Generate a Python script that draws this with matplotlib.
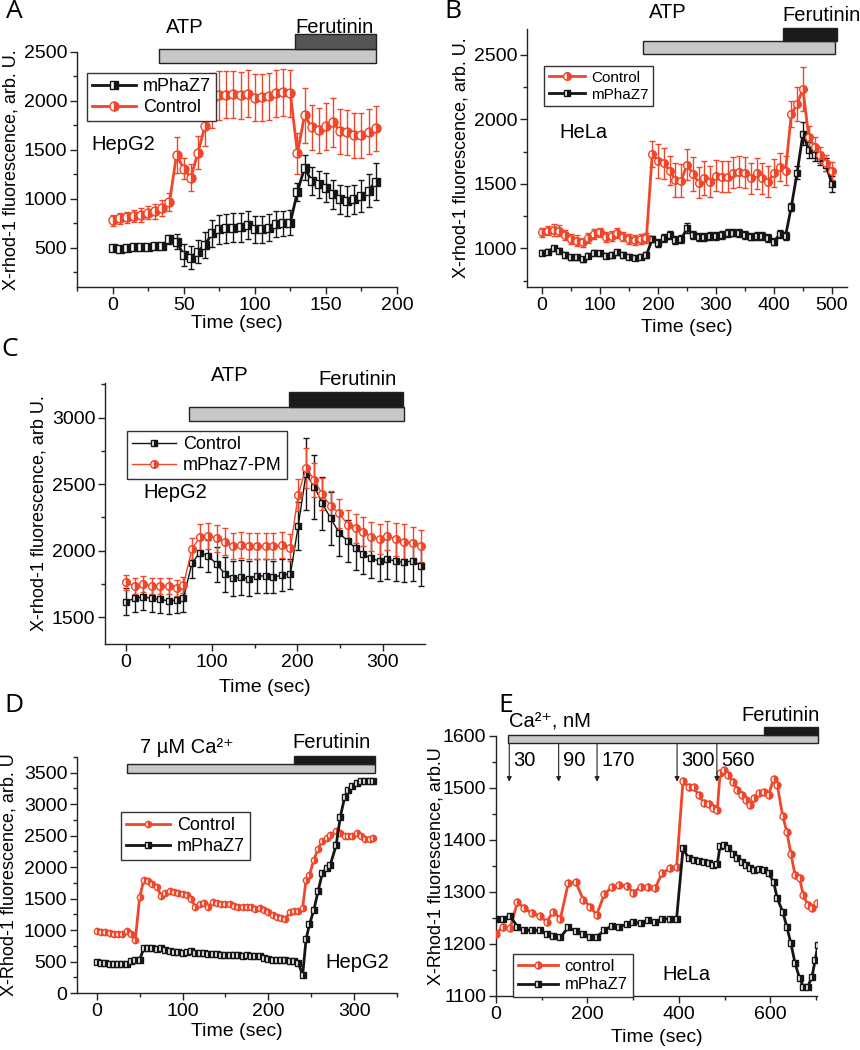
"""Five-panel X-rhod-1 fluorescence figure (panels A-E)."""

import matplotlib.pyplot as plt
from matplotlib.ticker import MultipleLocator

plt.rcParams["font.family"] = ["Liberation Sans", "DejaVu Sans"]

RED = "#F0462A"
BLACK = "#151515"

# ---------------- Panel A (HepG2, ATP then ferutinin) ----------------
t_a = [0, 5, 10, 15, 20, 25, 30, 35, 40, 45, 50, 55, 60, 65, 70, 75, 80, 85, 90,
       95, 100, 105, 110, 115, 120, 125, 130, 135, 140, 145, 150, 155, 160, 165,
       170, 175, 180, 185]
a_ctrl = [780, 800, 810, 825, 835, 860, 873, 905, 965, 1447, 1310, 1216, 1470,
          1742, 2007, 2058, 2065, 2070, 2058, 2075, 2035, 2040, 2050, 2080, 2090,
          2080, 1464, 1855, 1730, 1700, 1742, 1780, 1690, 1680, 1650, 1650, 1685,
          1720]
a_ctrl_err = [60, 60, 60, 65, 70, 70, 75, 80, 90, 180, 110, 140, 170, 200, 280,
              250, 240, 240, 240, 240, 240, 240, 240, 240, 240, 240, 210, 280,
              230, 230, 240, 250, 230, 230, 230, 230, 230, 230]
a_mut = [500, 486, 496, 506, 506, 513, 523, 523, 587, 564, 428, 400, 462, 530,
         649, 690, 700, 706, 710, 734, 690, 690, 706, 744, 750, 757, 1073, 1318,
         1182, 1148, 1114, 1046, 995, 978, 995, 1029, 1083, 1175]
a_mut_err = [25, 25, 25, 25, 25, 25, 25, 30, 45, 80, 110, 120, 120, 130, 140,
             150, 150, 150, 150, 140, 140, 140, 140, 130, 130, 130, 90, 130,
             140, 140, 150, 150, 150, 150, 150, 160, 170, 190]

# ---------------- Panel B (HeLa) ----------------
t_b = [0, 10, 20, 30, 40, 50, 60, 70, 80, 90, 100, 110, 120, 130, 140, 150, 160,
       170, 180, 190, 200, 210, 220, 230, 240, 250, 260, 270, 280, 290, 300, 310,
       320, 330, 340, 350, 360, 370, 380, 390, 400, 410, 420, 430, 440, 450, 460,
       470, 480, 490, 500]
b_ctrl = [1124, 1135, 1142, 1137, 1103, 1070, 1060, 1047, 1078, 1109, 1124,
          1085, 1096, 1116, 1091, 1072, 1065, 1070, 1080, 1729, 1678, 1660, 1603,
          1530, 1525, 1647, 1577, 1510, 1543, 1517, 1564, 1556, 1556, 1587, 1595,
          1587, 1543, 1582, 1543, 1517, 1582, 1628, 1603, 2040, 2120, 2234, 1866,
          1789, 1724, 1660, 1600]
b_ctrl_err = [35, 35, 50, 40, 35, 40, 40, 35, 40, 40, 35, 40, 40, 40, 35, 40, 40,
              40, 40, 100, 130, 120, 110, 130, 130, 120, 130, 120, 130, 120, 120,
              120, 120, 120, 120, 120, 120, 120, 120, 120, 110, 110, 110, 100,
              130, 170, 80, 70, 60, 60, 70]
b_mut = [967, 974, 1000, 982, 948, 930, 930, 915, 941, 967, 962, 943, 948, 969,
         948, 935, 928, 935, 948, 1070, 1039, 1078, 1103, 1065, 1070, 1155, 1103,
         1085, 1085, 1096, 1098, 1103, 1116, 1122, 1116, 1103, 1091, 1096, 1096,
         1078, 1052, 1109, 1096, 1323, 1587, 1887, 1763, 1724, 1698, 1647, 1497]
b_mut_err = [20, 20, 20, 20, 20, 20, 20, 20, 20, 20, 20, 20, 20, 20, 20, 20, 20,
             20, 20, 25, 30, 30, 30, 30, 30, 40, 30, 30, 30, 30, 30, 30, 30, 30,
             30, 30, 30, 30, 30, 30, 30, 30, 30, 30, 50, 90, 60, 50, 50, 50, 60]

# ---------------- Panel C (HepG2, PM-targeted) ----------------
t_c = [0, 10, 20, 30, 40, 50, 60, 67, 77, 86, 96, 106, 116, 125, 134, 143, 153,
       163, 172, 182, 192, 201, 210, 220, 229, 239, 249, 259, 268, 277, 286, 296,
       305, 315, 325, 335, 344]
c_ctrl = [1618, 1643, 1655, 1643, 1635, 1623, 1630, 1643, 1906, 1986, 1963,
          1898, 1823, 1793, 1801, 1791, 1811, 1811, 1801, 1818, 1826, 2186, 2574,
          2482, 2356, 2244, 2131, 2073, 2018, 1973, 1943, 1923, 1936, 1923, 1913,
          1926, 1888]
c_ctrl_err = [100, 100, 100, 100, 100, 100, 100, 100, 110, 110, 120, 130, 130,
              130, 130, 130, 130, 130, 120, 120, 110, 180, 270, 240, 200, 200,
              170, 160, 160, 150, 150, 150, 150, 150, 150, 150, 150]
c_mut = [1763, 1735, 1750, 1735, 1735, 1735, 1723, 1743, 2013, 2101, 2111, 2093,
         2068, 2036, 2043, 2036, 2036, 2036, 2036, 2043, 2023, 2419, 2619, 2532,
         2424, 2336, 2281, 2194, 2169, 2144, 2106, 2089, 2114, 2086, 2068, 2061,
         2036]
c_mut_err = [55, 60, 60, 60, 60, 60, 60, 60, 80, 100, 100, 100, 100, 100, 100,
             100, 100, 100, 100, 100, 100, 120, 150, 130, 120, 110, 110, 110, 110,
             110, 110, 110, 110, 125, 130, 120, 120]

# ---------------- Panel D (HepG2, 7 uM Ca2+) ----------------
t_d = [0, 5, 10, 15, 20, 25, 30, 35, 40, 45, 50, 55, 60, 65, 70, 75, 80, 85, 90,
       95, 100, 105, 110, 115, 120, 125, 130, 135, 140, 145, 150, 155, 160, 165,
       170, 175, 180, 185, 190, 195, 200, 205, 210, 215, 220, 225, 230, 235, 240,
       244, 248, 253, 258, 263, 268, 272, 279, 284, 289, 293, 298, 303, 308, 313,
       318, 322]
d_ctrl = [992, 977, 966, 955, 940, 940, 940, 992, 940, 845, 1520, 1800, 1774,
          1731, 1689, 1547, 1584, 1626, 1600, 1584, 1573, 1563, 1494, 1362, 1415,
          1425, 1372, 1441, 1425, 1415, 1415, 1415, 1388, 1372, 1362, 1362, 1362,
          1336, 1351, 1320, 1283, 1240, 1204, 1193, 1177, 1283, 1309, 1309, 1351,
          1800, 1880, 2110, 2290, 2420, 2470, 2510, 2580, 2540, 2500, 2490, 2490,
          2550, 2490, 2440, 2450, 2455]
d_mut = [491, 475, 475, 465, 465, 465, 465, 465, 507, 517, 528, 713, 713, 713,
         702, 713, 676, 665, 649, 649, 639, 649, 660, 639, 633, 633, 623, 612,
         612, 607, 597, 597, 607, 597, 586, 597, 581, 586, 581, 560, 544, 528,
         528, 517, 517, 502, 502, 480, 280, 855, 1093, 1315, 1616, 1906, 1980,
         2027, 2344, 2804, 3110, 3226, 3295, 3331, 3374, 3374, 3374, 3363]

# ---------------- Panel E (HeLa, Ca2+ steps) ----------------
t_e_ctrl = [0, 15, 31, 47, 62, 78, 96, 111, 125, 141, 158, 174, 191, 206, 220,
            237, 253, 269, 286, 300, 317, 333, 348, 363, 381, 395, 409, 421,
            432, 444, 454, 465, 475, 484, 490, 499, 508, 518, 528, 538, 547, 556,
            565, 575, 585, 596, 607, 615, 627, 636, 645, 654, 664, 672, 682, 691,
            702]
e_ctrl = [1220, 1233, 1231, 1281, 1269, 1259, 1254, 1243, 1262, 1249, 1317,
          1320, 1285, 1272, 1256, 1296, 1309, 1313, 1312, 1299, 1310, 1309, 1307,
          1336, 1346, 1349, 1514, 1502, 1501, 1486, 1472, 1469, 1461, 1458, 1528,
          1535, 1525, 1512, 1496, 1487, 1477, 1467, 1480, 1491, 1493, 1487, 1517,
          1506, 1446, 1416, 1373, 1333, 1326, 1294, 1275, 1269, 1279]
t_e_mut = [0, 15, 31, 47, 62, 78, 96, 111, 125, 141, 158, 174, 191, 206, 220,
           237, 253, 269, 286, 300, 317, 333, 348, 363, 381, 395, 409, 421, 432,
           444, 454, 465, 475, 484, 490, 499, 508, 518, 528, 538, 547, 556, 565,
           575, 585, 596, 607, 615, 627, 636, 645, 654, 664, 672, 682, 691, 698,
           704]
e_mut = [1249, 1249, 1254, 1233, 1227, 1226, 1226, 1219, 1216, 1213, 1232, 1225,
         1219, 1213, 1214, 1226, 1235, 1233, 1238, 1242, 1240, 1246, 1243, 1248,
         1249, 1249, 1384, 1365, 1362, 1360, 1357, 1355, 1352, 1354, 1388, 1390,
         1384, 1374, 1365, 1358, 1352, 1346, 1343, 1344, 1343, 1336, 1320, 1288,
         1262, 1233, 1201, 1163, 1134, 1118, 1118, 1137, 1169, 1198]
e_doses = ["30", "90", "170", "300", "560"]
e_dose_times = [29, 137, 221, 396, 483]

W, H = 860, 1050
fig = plt.figure(figsize=(W / 100, H / 100), dpi=100)

TICK_FS = 14
TEXT_FS = 14.5


def px_axes(left, top, right, bottom):
    return fig.add_axes([left / W, 1 - bottom / H, (right - left) / W,
                         (bottom - top) / H])


def style(ax, xmaj, ymaj):
    for s in ("top", "right"):
        ax.spines[s].set_visible(False)
    for s in ("left", "bottom"):
        ax.spines[s].set_linewidth(1.0)
        ax.spines[s].set_color("#222222")
    ax.xaxis.set_major_locator(MultipleLocator(xmaj))
    ax.xaxis.set_minor_locator(MultipleLocator(xmaj / 2))
    ax.yaxis.set_major_locator(MultipleLocator(ymaj))
    ax.yaxis.set_minor_locator(MultipleLocator(ymaj / 2))
    ax.tick_params(which="major", direction="out", length=5, width=1,
                   labelsize=TICK_FS, color="#222222", pad=2)
    ax.tick_params(which="minor", direction="out", length=3, width=1,
                   color="#222222")


def place_labels(ax, ylab, ylab_px, xlab_px):
    ax.set_ylabel(ylab, fontsize=13)
    ax.set_xlabel("Time (sec)", fontsize=14)
    bb = ax.get_position()
    ax.yaxis.set_label_coords(ylab_px / W, (bb.y0 + bb.y1) / 2,
                              transform=fig.transFigure)
    ax.yaxis.label.set_verticalalignment("center")
    ax.xaxis.set_label_coords((bb.x0 + bb.x1) / 2, 1 - xlab_px / H,
                              transform=fig.transFigure)
    ax.xaxis.label.set_verticalalignment("center")


def series(ax, t, y, err, color, marker, ms, lw, label):
    if err is not None:
        ax.errorbar(t, y, yerr=err, fmt="none", ecolor=color, elinewidth=1,
                    capsize=2.5, capthick=1, zorder=2)
    line, = ax.plot(t, y, color=color, lw=lw, marker=marker, ms=ms,
                    fillstyle="right", markerfacecolor=color,
                    markerfacecoloralt="white", markeredgecolor=color,
                    markeredgewidth=1, label=label, zorder=3)
    return line


def bar(ax, span, yspan, color):
    ax.barh((yspan[0] + yspan[1]) / 2, span[1] - span[0], left=span[0],
            height=yspan[1] - yspan[0], color=color, edgecolor="#222222",
            linewidth=1, clip_on=False, zorder=4)


def legend(ax, handles, x, y, fs):
    ax.legend(handles=handles, loc="upper left",
              bbox_to_anchor=(x / W, 1 - y / H), bbox_transform=fig.transFigure,
              borderaxespad=0, fancybox=False, framealpha=1,
              edgecolor="#333333", fontsize=fs, handlelength=2.4,
              handletextpad=0.4, borderpad=0.3, labelspacing=0.2)


def ptext(s, x, y, **kw):
    fig.text(x / W, 1 - y / H, s, ha="center", va="center", **kw)


# Panel A
ax = px_axes(77, 52, 397, 287)
ax.set_xlim(-25, 200)
ax.set_ylim(100, 2500)
style(ax, 50, 500)
h1 = series(ax, t_a, a_mut, a_mut_err, BLACK, "s", 6, 2, "mPhaZ7")
h2 = series(ax, t_a, a_ctrl, a_ctrl_err, RED, "o", 6.5, 2, "Control")
bar(ax, (33, 185), (2388, 2530), "#c8c8c8")
bar(ax, (128, 185), (2530, 2683), "#555555")
ax.text(51, 2755, "ATP", ha="center", va="center", fontsize=TEXT_FS,
        clip_on=False)
ax.text(156, 2755, "Ferutinin", ha="center", va="center", fontsize=TEXT_FS,
        clip_on=False)
legend(ax, [h1, h2], 87, 73, 13)
place_labels(ax, "X-rhod-1 fluorescence, arb. U.", 11, 323)
ptext("HepG2", 123, 145, fontsize=TEXT_FS)

# Panel B
ax = px_axes(527, 29, 847, 287)
ax.set_xlim(-26, 526)
ax.set_ylim(700, 2700)
style(ax, 100, 500)
h2 = series(ax, t_b, b_mut, b_mut_err, BLACK, "s", 5, 2, "mPhaZ7")
h1 = series(ax, t_b, b_ctrl, b_ctrl_err, RED, "o", 5.5, 2, "Control")
bar(ax, (174, 506), (2508, 2609), "#c8c8c8")
bar(ax, (415, 509), (2609, 2707), "#1a1a1a")
ax.text(217, 2826, "ATP", ha="center", va="center", fontsize=TEXT_FS,
        clip_on=False)
ax.text(415, 2803, "Ferutinin", ha="left", va="center", fontsize=TEXT_FS,
        clip_on=False)
legend(ax, [h1, h2], 544, 66, 11)
place_labels(ax, "X-rhod-1 fluorescence, arb. U.", 461, 327)
ptext("HeLa", 583, 133, fontsize=TEXT_FS)

# Panel C
ax = px_axes(105, 383, 425, 644)
ax.set_xlim(-24.5, 349)
ax.set_ylim(1300, 3260)
style(ax, 100, 500)
h1 = series(ax, t_c, c_ctrl, c_ctrl_err, BLACK, "s", 5, 1, "Control")
h2 = series(ax, t_c, c_mut, c_mut_err, RED, "o", 5.5, 1, "mPhaz7-PM")
bar(ax, (74, 324), (2977, 3083), "#c8c8c8")
bar(ax, (190, 323), (3083, 3190), "#1a1a1a")
ax.text(121, 3320, "ATP", ha="center", va="center", fontsize=TEXT_FS,
        clip_on=False)
ax.text(270, 3288, "Ferutinin", ha="center", va="center", fontsize=TEXT_FS,
        clip_on=False)
legend(ax, [h1, h2], 127, 431, 13)
place_labels(ax, "X-rhod-1 fluorescence, arb U.", 39, 688)
ptext("HepG2", 175, 493, fontsize=TEXT_FS)

# Panel D
ax = px_axes(77, 757, 397, 993)
ax.set_xlim(-23, 350)
ax.set_ylim(0, 3750)
style(ax, 100, 500)
h1 = series(ax, t_d, d_ctrl, None, RED, "o", 4.5, 2, "Control")
h2 = series(ax, t_d, d_mut, None, BLACK, "s", 4.5, 2, "mPhaZ7")
bar(ax, (35, 324), (3500, 3632), "#c8c8c8")
bar(ax, (230, 324), (3632, 3764), "#1a1a1a")
ax.text(50, 3896, "7 µM Ca²⁺", ha="left", va="center", fontsize=TEXT_FS,
        clip_on=False)
ax.text(274, 3975, "Ferutinin", ha="center", va="center", fontsize=TEXT_FS,
        clip_on=False)
legend(ax, [h1, h2], 121, 812, 13)
place_labels(ax, "X-Rhod-1 fluorescence, arb. U", 9, 1032)
ptext("HepG2", 357, 962, fontsize=TEXT_FS)

# Panel E
ax = px_axes(496, 736, 817, 996)
ax.set_xlim(0, 702)
ax.set_ylim(1100, 1600)
style(ax, 200, 100)
h1 = series(ax, t_e_ctrl, e_ctrl, None, RED, "o", 5, 2, "control")
h2 = series(ax, t_e_mut, e_mut, None, BLACK, "s", 5, 2, "mPhaZ7")
bar(ax, (26, 705), (1587, 1601), "#c8c8c8")
bar(ax, (587, 705), (1601, 1617), "#1a1a1a")
ax.text(29, 1627, "Ca²⁺, nM", ha="left", va="center", fontsize=TEXT_FS,
        clip_on=False)
ax.text(623, 1640, "Ferutinin", ha="center", va="center", fontsize=TEXT_FS,
        clip_on=False)
for dose, td in zip(e_doses, e_dose_times):
    ax.annotate("", xy=(td, 1512), xytext=(td, 1587),
                arrowprops=dict(arrowstyle="-|>", color="#222222", lw=0.8,
                                mutation_scale=7, shrinkA=0, shrinkB=0))
    ax.text(td + 9, 1552, dose, ha="left", va="center", fontsize=TEXT_FS)
legend(ax, [h1, h2], 513, 954, 12)
place_labels(ax, "X-Rhod-1 fluorescence, arb.U", 436, 1038)
ptext("HeLa", 686, 975, fontsize=TEXT_FS)

# Panel letters
for letter, x, y in [("A", 14, 12), ("B", 453, 12), ("C", 10, 349),
                     ("D", 14, 705), ("E", 506, 705)]:
    fig.text(x / W, 1 - y / H, letter, ha="center", va="center", fontsize=19,
             family=["Open Sans", "DejaVu Sans"])

fig.savefig("out.png", dpi=100)
